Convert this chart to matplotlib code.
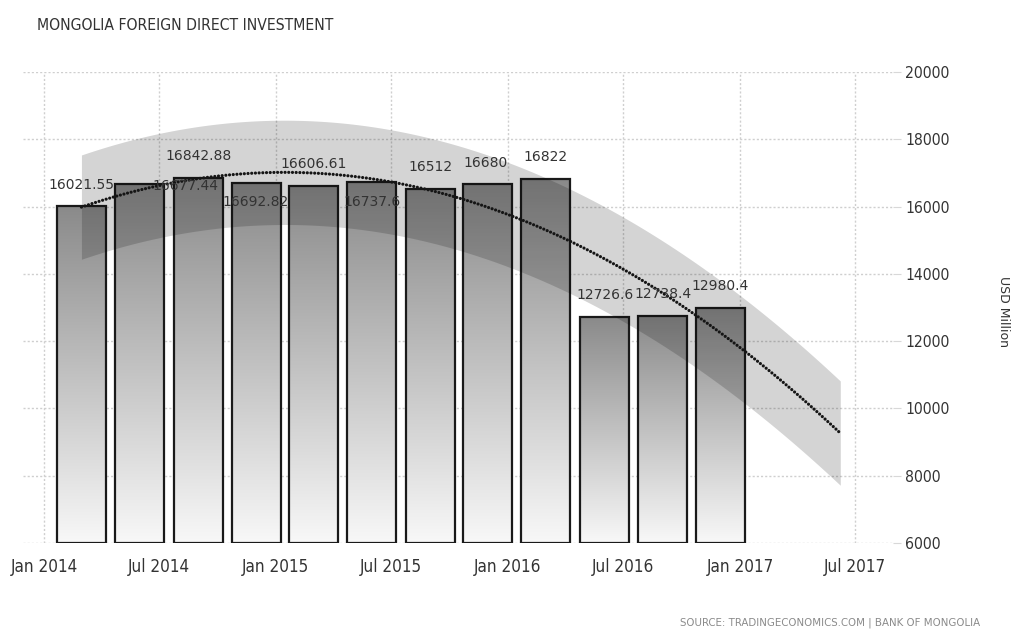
import numpy as np
import matplotlib
matplotlib.use("Agg")
import matplotlib.pyplot as plt
import matplotlib.dates as mdates
from matplotlib.colors import LinearSegmentedColormap
from matplotlib import font_manager as fm

# ---- data ----
dates = ["2014-03-01", "2014-06-01", "2014-09-01", "2014-12-01",
         "2015-03-01", "2015-06-01", "2015-09-01", "2015-12-01",
         "2016-03-01", "2016-06-01", "2016-09-01", "2016-12-01"]
values = [16021.55, 16677.44, 16842.88, 16692.82,
          16606.61, 16737.6, 16512, 16680,
          16822, 12726.6, 12738.4, 12980.4]
labels = ["16021.55", "16677.44", "16842.88", "16692.82",
          "16606.61", "16737.6", "16512", "16680",
          "16822", "12726.6", "12738.4", "12980.4"]
tick_dates = ["2014-01-01", "2014-07-01", "2015-01-01", "2015-07-01",
              "2016-01-01", "2016-07-01", "2017-01-01", "2017-07-01"]
tick_labels = ["Jan 2014", "Jul 2014", "Jan 2015", "Jul 2015",
               "Jan 2016", "Jul 2016", "Jan 2017", "Jul 2017"]
y_ticks = [6000, 8000, 10000, 12000, 14000, 16000, 18000, 20000]
forecast_end = "2017-06-08"

# label offsets in pixels (dx, dy) relative to bar top centre
label_offsets = [(0, 21), (46, -2), (0, 22), (0, -19), (0, 22), (0, -20),
                 (0, 22), (-2, 21), (0, 22), (1, 22), (1, 22), (0, 22)]

TXT = "#333333"


def find_narrow():
    prefs = ["LiberationSansNarrow-Regular", "DejaVuSansCondensed.ttf",
             "NotoSans-Condensed.ttf", "NotoSans-CondensedRegular",
             "RobotoCondensed-Regular", "OpenSans-CondensedRegular",
             "OpenSansCondensed"]
    files = [f.fname for f in fm.fontManager.ttflist]
    for p in prefs:
        for f in files:
            if p.lower() in f.lower():
                return fm.FontProperties(fname=f)
    for f in files:
        n = f.lower()
        if ("narrow" in n or "condensed" in n) and not any(
                k in n for k in ["bold", "italic", "oblique", "mono", "serif",
                                 "light", "thin", "black", "semi", "extra", "medium"]):
            return fm.FontProperties(fname=f)
    return fm.FontProperties(family="DejaVu Sans")


NARROW = find_narrow()

W, H = 1011, 630
fig = plt.figure(figsize=(W / 100, H / 100), dpi=100)
renderer = fig.canvas.get_renderer()


def fitted(text, target_px, base=10.0):
    p = NARROW.copy()
    p.set_size(base)
    w, h, d = renderer.get_text_width_height_descent(text, p, ismath=False)
    p.set_size(base * target_px / w)
    return p


left, right, bottom, top = 23, 893, 543, 72
ax = fig.add_axes([left / W, 1 - bottom / H, (right - left) / W, (bottom - top) / H])

xd = mdates.date2num([np.datetime64(d) for d in dates])
xmin = mdates.date2num(np.datetime64("2013-11-29"))
xmax = mdates.date2num(np.datetime64("2017-08-30"))
ax.set_xlim(xmin, xmax)
ax.set_ylim(6000, 20000)

# grid
for yt in y_ticks:
    ax.axhline(yt, color="#cfcfcf", lw=1, ls=(0, (1.5, 1.5)), zorder=0)
tx = mdates.date2num([np.datetime64(d) for d in tick_dates])
for t in tx:
    ax.axvline(t, color="#cfcfcf", lw=1, ls=(0, (1.5, 1.5)), zorder=0)

# bars with vertical gradient
cmap = LinearSegmentedColormap.from_list("g", ["#f8f8f8", "#8a8a8a"])
grad = np.linspace(0, 1, 256).reshape(-1, 1)
bw = 77  # days
for x, v in zip(xd, values):
    ax.imshow(grad, extent=(x - bw / 2, x + bw / 2, 6000, v), origin="lower",
              aspect="auto", cmap=cmap, zorder=2, interpolation="bilinear")
    ax.add_patch(plt.Rectangle((x - bw / 2, 6000), bw, v - 6000, fill=False,
                               ec="#1a1a1a", lw=1.6, zorder=3))

# quadratic trend and band
coef = np.polyfit(xd, values, 2)
xt = np.linspace(xd[0], mdates.date2num(np.datetime64(forecast_end)), 200)
yt_ = np.polyval(coef, xt)
half = 1550
ax.fill_between(xt, yt_ - half, yt_ + half, color="black", alpha=0.17,
                lw=0, zorder=4)
ax.plot(xt, yt_, color="#151515", lw=2.3, ls=(0, (0.01, 1.15)),
        dash_capstyle="round", zorder=5)

# bar labels
for x, v, lab, (dx, dy) in zip(xd, values, labels, label_offsets):
    ax.annotate(lab, (x, v), xytext=(dx * 0.72, dy * 0.72),
                textcoords="offset points", ha="center", va="center",
                fontsize=10, color=TXT, zorder=6, family="DejaVu Sans")

# axes styling
for s in ax.spines.values():
    s.set_visible(False)
ax.set_xticks(tx)
ax.set_xticklabels(tick_labels)
ax.tick_params(axis="x", length=0, pad=11, labelcolor=TXT)
ax.yaxis.tick_right()
ax.set_yticks(y_ticks)
ax.set_yticklabels([str(v) for v in y_ticks])
ax.tick_params(axis="y", length=6, color="#d8d8d8", pad=3, labelcolor=TXT)
xprop = fitted("Jan 2014", 67)
yprop = fitted("20000", 45)
for lab in ax.get_xticklabels():
    lab.set_fontproperties(xprop)
for lab in ax.get_yticklabels():
    lab.set_fontproperties(yprop)

fig.text(37 / W, 1 - 25 / H, "MONGOLIA FOREIGN DIRECT INVESTMENT",
         ha="left", va="center", color=TXT,
         fontproperties=fitted("MONGOLIA FOREIGN DIRECT INVESTMENT", 298))
fig.text(1003 / W, 1 - 312 / H, "USD Million", rotation=270, ha="center",
         va="center", color=TXT, fontsize=9, family="DejaVu Sans")
src = "SOURCE: TRADINGECONOMICS.COM | BANK OF MONGOLIA"
fig.text(980 / W, 1 - 623 / H, src, ha="right", va="center", color="#8a8a8a",
         fontproperties=fitted(src, 300))

fig.savefig("out.png", dpi=100)
